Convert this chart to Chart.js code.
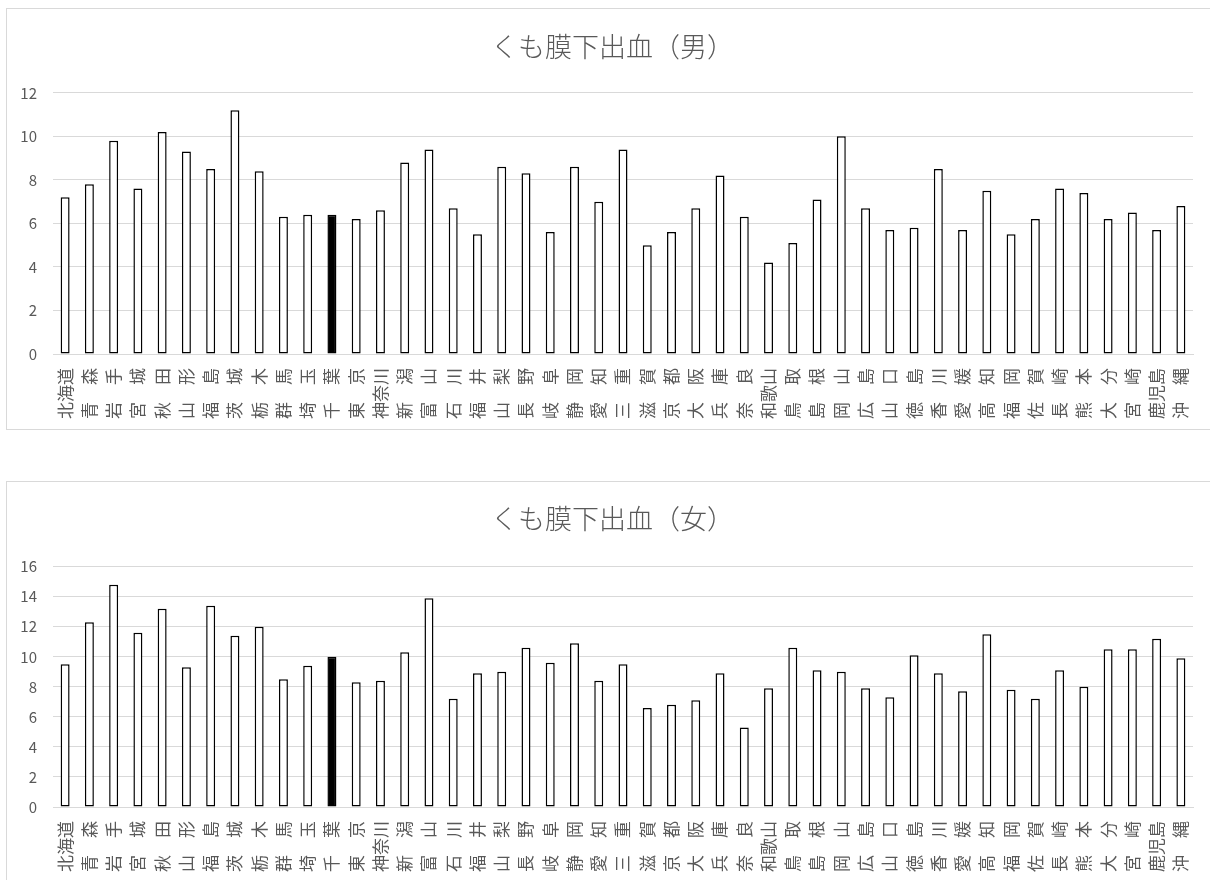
<!DOCTYPE html>
<html>
<head>
<meta charset="utf-8">
<script src="https://cdn.jsdelivr.net/npm/chart.js@4.4.0/dist/chart.umd.min.js"></script>
<style>
  html, body { margin: 0; padding: 0; background: #fff; overflow: hidden; width: 1210px; height: 880px; }
  .box { position: absolute; left: 6px; width: 1211px; border: 1px solid #d9d9d9; background: #fff; }
  #boxM { top: 8px; height: 420px; }
  #boxF { top: 481px; height: 400px; }
  canvas { display: block; }
</style>
</head>
<body>
<div class="box" id="boxM"><canvas id="male" width="1211" height="420"></canvas></div>
<div class="box" id="boxF"><canvas id="female" width="1211" height="400"></canvas></div>
<script>
// Prefecture labels (two-character names padded with an ideographic space)
const prefectures = [
  '北海道', '青　森', '岩　手', '宮　城', '秋　田', '山　形', '福　島', '茨　城', '栃　木', '群　馬',
  '埼　玉', '千　葉', '東　京', '神奈川', '新　潟', '富　山', '石　川', '福　井', '山　梨', '長　野',
  '岐　阜', '静　岡', '愛　知', '三　重', '滋　賀', '京　都', '大　阪', '兵　庫', '奈　良', '和歌山',
  '鳥　取', '島　根', '岡　山', '広　島', '山　口', '徳　島', '香　川', '愛　媛', '高　知', '福　岡',
  '佐　賀', '長　崎', '熊　本', '大　分', '宮　崎', '鹿児島', '沖　縄'
];

// くも膜下出血 rates, men
const maleRates = [
  7.2, 7.8, 9.8, 7.6, 10.2, 9.3, 8.5, 11.2, 8.4, 6.3,
  6.4, 6.4, 6.2, 6.6, 8.8, 9.4, 6.7, 5.5, 8.6, 8.3,
  5.6, 8.6, 7.0, 9.4, 5.0, 5.6, 6.7, 8.2, 6.3, 4.2,
  5.1, 7.1, 10.0, 6.7, 5.7, 5.8, 8.5, 5.7, 7.5, 5.5,
  6.2, 7.6, 7.4, 6.2, 6.5, 5.7, 6.8
];

// くも膜下出血 rates, women
const femaleRates = [
  9.5, 12.3, 14.8, 11.6, 13.2, 9.3, 13.4, 11.4, 12.0, 8.5,
  9.4, 10.0, 8.3, 8.4, 10.3, 13.9, 7.2, 8.9, 9.0, 10.6,
  9.6, 10.9, 8.4, 9.5, 6.6, 6.8, 7.1, 8.9, 5.3, 7.9,
  10.6, 9.1, 9.0, 7.9, 7.3, 10.1, 8.9, 7.7, 11.5, 7.8,
  7.2, 9.1, 8.0, 10.5, 10.5, 11.2, 9.9
];

const maleTicks = [0, 2, 4, 6, 8, 10, 12];
const femaleTicks = [0, 2, 4, 6, 8, 10, 12, 14, 16];

const highlighted = '千　葉';

const FONT = '"Noto Sans CJK JP", "Noto Sans", sans-serif';
const TEXT = '#595959';
const GRID = '#d9d9d9';

// Title centred across the whole chart frame rather than the plot box
const frameTitle = {
  id: 'frameTitle',
  afterDraw(chart, args, opts) {
    const ctx = chart.ctx;
    ctx.save();
    ctx.font = `300 ${opts.size}px ${FONT}`;
    ctx.fillStyle = TEXT;
    ctx.textAlign = 'center';
    ctx.textBaseline = 'middle';
    ctx.fillText(opts.text, chart.width / 2, opts.y);
    ctx.restore();
  }
};

function buildChart(canvasId, title, values, ticks, titleY, plotTop) {
  const fills = prefectures.map(p => (p === highlighted ? '#000000' : '#ffffff'));
  return new Chart(document.getElementById(canvasId), {
    type: 'bar',
    data: {
      labels: prefectures,
      datasets: [{
        data: values,
        backgroundColor: fills,
        borderColor: '#000000',
        borderWidth: 1.5,
        borderSkipped: false,
        categoryPercentage: 1.0,
        barPercentage: 0.37
      }]
    },
    plugins: [frameTitle],
    options: {
      responsive: false,
      animation: false,
      devicePixelRatio: 1,
      layout: { padding: { left: 0, right: 25, top: plotTop, bottom: 0 } },
      plugins: {
        legend: { display: false },
        tooltip: { enabled: false },
        title: { display: false },
        frameTitle: { text: title, size: 27, y: titleY }
      },
      scales: {
        x: {
          grid: { display: false, drawTicks: false },
          border: { display: true, color: GRID, width: 1 },
          ticks: {
            autoSkip: false,
            minRotation: 90,
            maxRotation: 90,
            padding: 14,
            color: TEXT,
            font: { family: FONT, size: 17 }
          },
          afterFit: s => { s.height = 75; }
        },
        y: {
          min: ticks[0],
          max: ticks[ticks.length - 1],
          afterBuildTicks: s => { s.ticks = ticks.map(v => ({ value: v })); },
          grid: { color: GRID, lineWidth: 1, drawTicks: false },
          border: { display: false },
          ticks: {
            padding: 16,
            color: TEXT,
            font: { family: FONT, size: 15 }
          },
          afterFit: s => { s.width = 46; }
        }
      }
    }
  });
}

buildChart('male', 'くも膜下出血（男）', maleRates, maleTicks, 37.7, 83.8);
buildChart('female', 'くも膜下出血（女）', femaleRates, femaleTicks, 37.0, 84.7);
</script>
</body>
</html>
